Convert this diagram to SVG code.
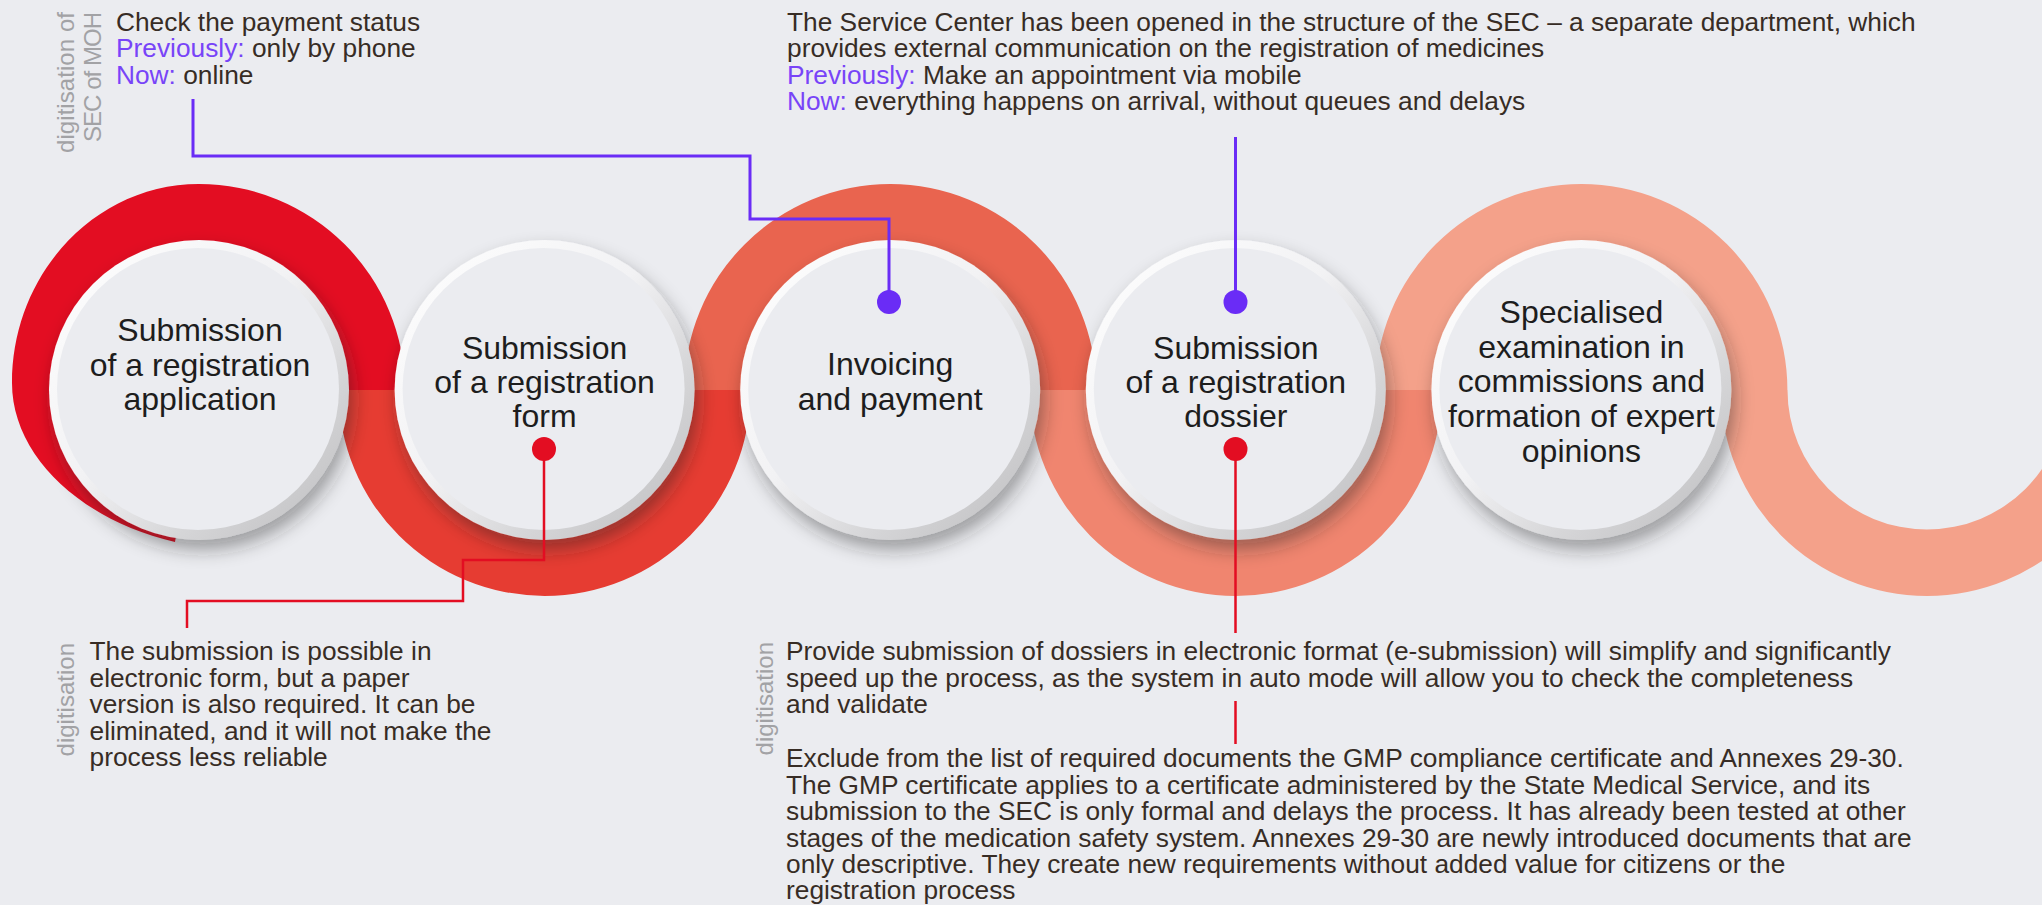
<svg xmlns="http://www.w3.org/2000/svg" width="2042" height="905" viewBox="0 0 2042 905">
<defs>
<style>
.body{font-family:"Liberation Sans",Arial,sans-serif;font-size:26.3px;fill:#372c25}
.hl{fill:#7844f8}
.lab{font-family:"Liberation Sans",Arial,sans-serif;font-size:24px;fill:#a2a2a5}
.nt{font-family:"Liberation Sans",Arial,sans-serif;font-size:32px;fill:#1d1d1d;text-anchor:middle}
.cp{fill:none;stroke:#6a2cf6;stroke-width:3}
.cr{fill:none;stroke:#e30d22;stroke-width:2.5}
.dp{fill:#6a2cf6}
.dr{fill:#e30d22}
.rim{fill:url(#rimg);filter:url(#sh)}
.face{fill:#ebecf0}
</style>
<linearGradient id="rimg" x1="0" y1="0" x2="1" y2="1">
<stop offset="0" stop-color="#ffffff"/>
<stop offset="0.45" stop-color="#f2f2f4"/>
<stop offset="0.7" stop-color="#d6d6d8"/>
<stop offset="1" stop-color="#bcbcbe"/>
</linearGradient>
<filter id="sh" x="-20%" y="-20%" width="150%" height="150%">
<feDropShadow dx="4" dy="10" stdDeviation="9" flood-color="#2a2a2a" flood-opacity="0.4"/>
</filter>
</defs>
<rect width="2042" height="905" fill="#ebecf0"/>

<g id="ribbon">
<path fill="#e30d22" d="M405,390 A206,206 0 0 0 199,184 C95.7,184 12,273 12,383 C12,455 80,520 175,542 L199,400 L330,390 Z"/>
<path fill="#e63c32" d="M338.6,390 A206,206 0 0 0 750.6,390 L684.1,390 A139.5,139.5 0 0 1 405.1,390 Z"/>
<path fill="#e9644f" d="M684.2,390 A206,206 0 0 1 1096.2,390 L1029.7,390 A139.5,139.5 0 0 0 750.7,390 Z"/>
<path fill="#f0856f" d="M1029.8,390 A206,206 0 0 0 1441.8,390 L1375.3,390 A139.5,139.5 0 0 1 1096.3,390 Z"/>
<path fill="#f4a18a" d="M1375.4,390 A206,206 0 0 1 1787.4,390 L1720.9,390 A139.5,139.5 0 0 0 1441.9,390 Z"/>
<path fill="#f4a18a" d="M1721,390 A206,206 0 0 0 2133,390 L2066.5,390 A139.5,139.5 0 0 1 1787.5,390 Z"/>
</g>

<g id="node1">
<circle class="rim" cx="199" cy="390" r="150"/>
<circle class="face" cx="198" cy="389" r="141"/>
<text class="nt"><tspan x="200" y="341">Submission</tspan><tspan x="200" y="376">of a registration</tspan><tspan x="200" y="410">application</tspan></text>
</g>
<g id="node2">
<circle class="rim" cx="544.6" cy="390" r="150"/>
<circle class="face" cx="543.6" cy="389" r="141"/>
<text class="nt"><tspan x="544.6" y="359">Submission</tspan><tspan x="544.6" y="393">of a registration</tspan><tspan x="544.6" y="427">form</tspan></text>
</g>
<g id="node3">
<circle class="rim" cx="890.2" cy="390" r="150"/>
<circle class="face" cx="889.2" cy="389" r="141"/>
<text class="nt"><tspan x="890.2" y="375">Invoicing</tspan><tspan x="890.2" y="410">and payment</tspan></text>
</g>
<g id="node4">
<circle class="rim" cx="1235.8" cy="390" r="150"/>
<circle class="face" cx="1234.8" cy="389" r="141"/>
<text class="nt"><tspan x="1235.8" y="359">Submission</tspan><tspan x="1235.8" y="393">of a registration</tspan><tspan x="1235.8" y="427">dossier</tspan></text>
</g>
<g id="node5">
<circle class="rim" cx="1581.4" cy="390" r="150"/>
<circle class="face" cx="1580.4" cy="389" r="141"/>
<text class="nt"><tspan x="1581.4" y="323">Specialised</tspan><tspan x="1581.4" y="358">examination in</tspan><tspan x="1581.4" y="392">commissions and</tspan><tspan x="1581.4" y="427">formation of expert</tspan><tspan x="1581.4" y="462">opinions</tspan></text>
</g>

<g id="connectors">
<path class="cp" d="M193,99 V156 H750 V219 H889 V302"/>
<path class="cp" d="M1235.5,137 V302"/>
<circle class="dp" cx="889" cy="302" r="12"/>
<circle class="dp" cx="1235.5" cy="302" r="12"/>
<path class="cr" d="M544,449 V560 H463 V601 H187 V628"/>
<path class="cr" d="M1235.5,449 V633 M1235.5,701 V744"/>
<circle class="dr" cx="544" cy="449" r="12"/>
<circle class="dr" cx="1235.5" cy="449" r="12"/>
</g>

<g id="note-payment">
<text class="lab" transform="translate(73.5,12) rotate(-90)" text-anchor="end" textLength="141">digitisation of</text>
<text class="lab" transform="translate(100.5,12) rotate(-90)" text-anchor="end" textLength="130">SEC of MOH</text>
<text class="body" x="116" y="31">Check the payment status</text>
<text class="body" x="116" y="57"><tspan class="hl">Previously:</tspan> only by phone</text>
<text class="body" x="116" y="84"><tspan class="hl">Now:</tspan> online</text>
</g>

<g id="note-service">
<text class="body" x="787" y="30.5">The Service Center has been opened in the structure of the SEC – a separate department, which</text>
<text class="body" x="787" y="57">provides external communication on the registration of medicines</text>
<text class="body" x="787" y="83.5"><tspan class="hl">Previously:</tspan> Make an appointment via mobile</text>
<text class="body" x="787" y="110"><tspan class="hl">Now:</tspan> everything happens on arrival, without queues and delays</text>
</g>

<g id="note-form">
<text class="lab" transform="translate(73.5,643) rotate(-90)" text-anchor="end">digitisation</text>
<text class="body" x="89.5" y="660">The submission is possible in</text>
<text class="body" x="89.5" y="686.5">electronic form, but a paper</text>
<text class="body" x="89.5" y="713">version is also required. It can be</text>
<text class="body" x="89.5" y="739.5">eliminated, and it will not make the</text>
<text class="body" x="89.5" y="766">process less reliable</text>
</g>

<g id="note-dossier">
<text class="lab" transform="translate(773,642) rotate(-90)" text-anchor="end">digitisation</text>
<text class="body" x="786" y="660">Provide submission of dossiers in electronic format (e-submission) will simplify and significantly</text>
<text class="body" x="786" y="686.5">speed up the process, as the system in auto mode will allow you to check the completeness</text>
<text class="body" x="786" y="713">and validate</text>
<text class="body" x="786" y="767">Exclude from the list of required documents the GMP compliance certificate and Annexes 29-30.</text>
<text class="body" x="786" y="793.5">The GMP certificate applies to a certificate administered by the State Medical Service, and its</text>
<text class="body" x="786" y="820">submission to the SEC is only formal and delays the process. It has already been tested at other</text>
<text class="body" x="786" y="846.5">stages of the medication safety system. Annexes 29-30 are newly introduced documents that are</text>
<text class="body" x="786" y="873">only descriptive. They create new requirements without added value for citizens or the</text>
<text class="body" x="786" y="899">registration process</text>
</g>
</svg>
